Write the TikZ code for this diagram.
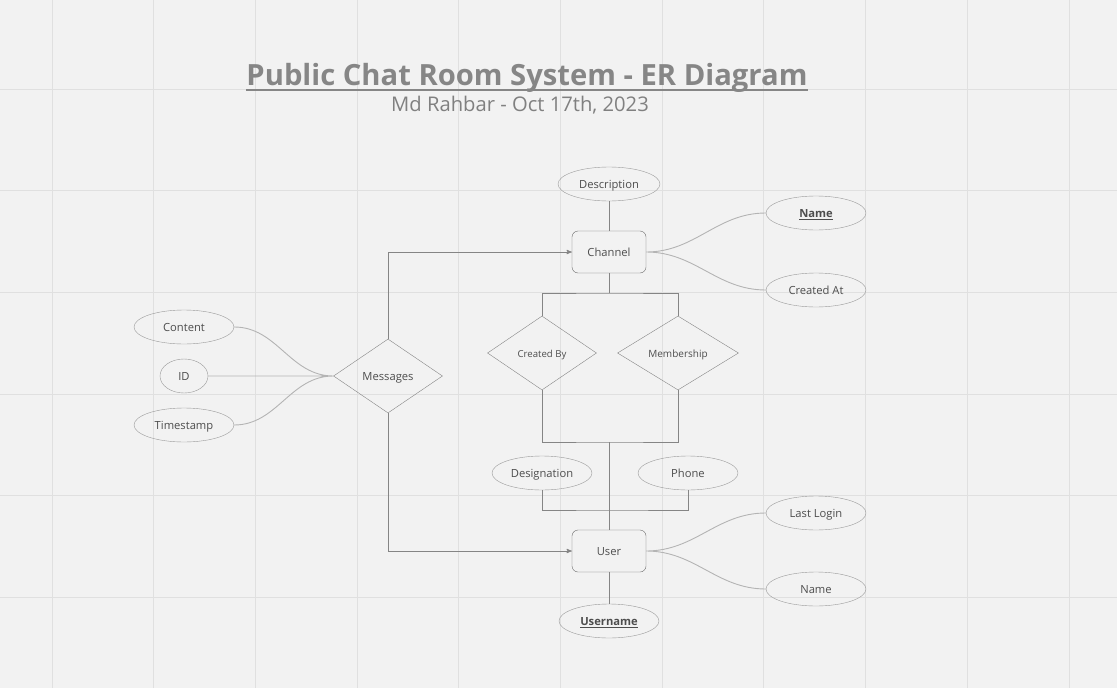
\documentclass[tikz,border=0pt]{standalone}
\usepackage{fontspec}
\setmainfont{Open Sans}
\usetikzlibrary{arrows,shapes.geometric}
\definecolor{paper}{HTML}{F2F2F2}
\definecolor{gridline}{HTML}{E0E0E0}
\definecolor{ink}{HTML}{4D4D4D}
\definecolor{boxline}{HTML}{6A6A6A}
\definecolor{edgeline}{HTML}{858585}
\definecolor{attrline}{HTML}{9A9A9A}
\definecolor{curveline}{HTML}{B4B4B4}

\begin{document}
\begin{tikzpicture}[x=1pt,y=-1pt,>=stealth',
  entity/.style={draw=boxline,rounded corners=6pt,minimum width=74pt,
    minimum height=42pt,text height=8.5pt,text depth=0pt,text=ink,
    font=\fontsize{11.2}{12}\selectfont},
  attr/.style={draw=attrline,ellipse,minimum width=100pt,minimum height=34pt,
    inner sep=0pt,text height=10pt,text depth=0.5pt,text=ink,
    font=\fontsize{11.2}{12}\selectfont},
  rel/.style={draw=edgeline,diamond,minimum width=109pt,minimum height=74pt,
    inner sep=0pt,text height=9pt,text depth=0pt,text=ink,
    font=\fontsize{9.6}{11}\selectfont},
  link/.style={draw=edgeline,line width=0.9pt},
  soft/.style={draw=curveline,line width=0.9pt}]
  \fill[paper] (0,0) rectangle (1117,688);
  \useasboundingbox (0,0) rectangle (1117,688);
  % background grid
  \foreach \gx in {52,153.7,...,1080} {
    \draw[gridline,line width=1pt] (\gx,0) -- (\gx,688);
  }
  \foreach \gy in {89,190.7,...,680} {
    \draw[gridline,line width=1pt] (0,\gy) -- (1117,\gy);
  }

  % title
  \node[inner sep=0pt,text=gray!95,font=\fontsize{29.2}{32}\bfseries\selectfont,
    anchor=base] (title) at (527,85) {Public Chat Room System - ER Diagram};
  \draw[gray!95,line width=2pt] ([yshift=-5pt]title.base west) -- ([yshift=-5pt]title.base east);
  \node[inner sep=0pt,text=gray,font=\fontsize{20.2}{22}\selectfont,anchor=base]
    (sub) at (520,111) {Md Rahbar - Oct 17th, 2023};

  % entities
  \node[entity] (chan) at (609,252) {Channel};
  \node[entity] (user) at (609,551) {User};

  % relationships
  \node[rel] (msg) at (388,376) {\fontsize{11.2}{12}\selectfont Messages};
  \node[rel] (cb) at (542,353) {Created By};
  \node[rel,minimum width=121pt] (mem) at (678,353) {\fontsize{10}{11}\selectfont Membership};

  % attributes
  \node[attr,minimum width=102pt] (desc) at (609,184) {Description};
  \node[attr] (cname) at (816,213) {\underline{\textbf{Name}}};
  \node[attr] (cat) at (816,290) {Created At};
  \node[attr] (content) at (184,327) {Content};
  \node[attr,minimum width=48pt] (id) at (184,376) {ID};
  \node[attr] (stamp) at (184,425) {Timestamp};
  \node[attr] (desig) at (542,473) {Designation};
  \node[attr] (phone) at (688,473) {Phone};
  \node[attr] (login) at (816,513) {Last Login};
  \node[attr] (uname) at (816,589) {Name};
  \node[attr] (usern) at (609,621) {\underline{\textbf{Username}}};

  \coordinate (top) at (609,293);
  \coordinate (bot) at (609,442);
  \coordinate (fork) at (609,510);

  % connectors
  \path[link]
  (desc) -- (chan)
  (chan.south) -- (top)
  (cb.north) |- (top) -| (mem.north)
  (cb.south) |- (bot) -| (mem.south)
  (bot) -- (user.north)
  (desig.south) |- (fork) -| (phone.south)
  (user) -- (usern);
  \draw[link,->] (msg.north) |- (chan.west);
  \draw[link,->] (msg.south) |- (user.west);
  \path[soft]
  (chan.east) to[out=0,in=180] (cname.west)
  (chan.east) to[out=0,in=180] (cat.west)
  (user.east) to[out=0,in=180] (login.west)
  (user.east) to[out=0,in=180] (uname.west)
  (content.east) to[out=0,in=180] (msg.west)
  (id.east) -- (msg.west)
  (stamp.east) to[out=0,in=180] (msg.west);
\end{tikzpicture}
\end{document}
